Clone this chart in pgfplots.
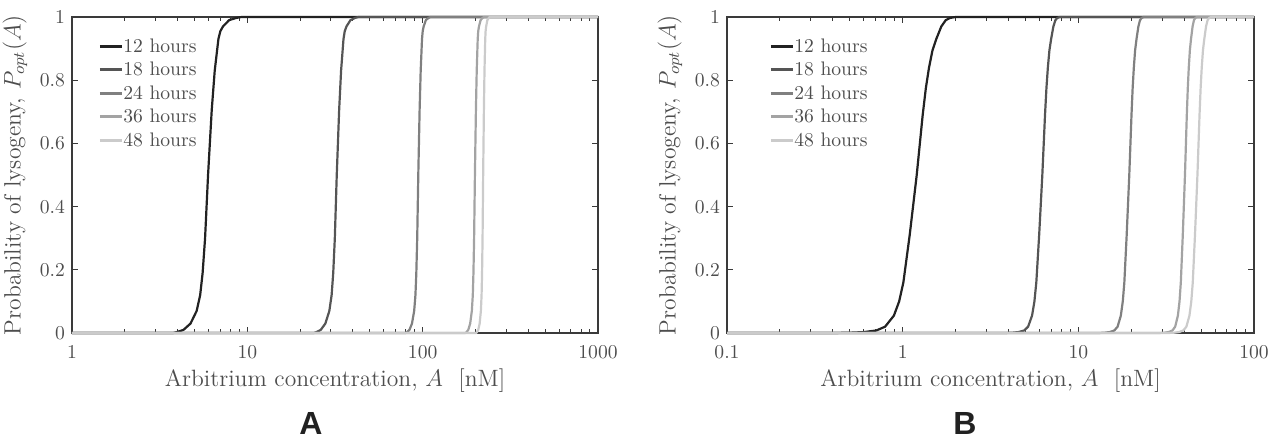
\documentclass[border=0pt]{standalone}
\usepackage{fontspec}
\usepackage{pgfplots}
\pgfplotsset{compat=1.18}
\newfontfamily\arialfont{Liberation Sans}
\definecolor{c12}{HTML}{222222}
\definecolor{c18}{HTML}{555555}
\definecolor{c24}{HTML}{808080}
\definecolor{c36}{HTML}{A3A3A3}
\definecolor{c48}{HTML}{CBCBCB}
\definecolor{txt}{HTML}{4D4D4D}
\definecolor{axc}{HTML}{3A3A3A}
\pgfplotsset{
 lyso/.style={
  scale only axis, height=158pt,
  ymin=0, ymax=1,
  ytick={0,0.2,0.4,0.6,0.8,1},
  yticklabels={0,{0.2\hspace{5pt}},{0.4\hspace{5pt}},{0.6\hspace{5pt}},{0.8\hspace{5pt}},1},
  tick align=inside, xtick pos=both, ytick pos=both,
  major tick length=3pt, minor tick length=1.8pt,
  tick style={axc, line width=0.5pt},
  axis line style={axc, line width=0.6pt},
  tick label style={font=\fontsize{9.8}{11}\selectfont, text=txt},
  xticklabel style={yshift=-2.7pt},
  label style={font=\fontsize{11.8}{14}\selectfont, text=txt},
  xlabel={Arbitrium concentration, $A$\ \ [nM]},
  ylabel={Probability of lysogeny, $P_{opt}(A)$},
  xlabel style={at={(axis description cs:0.5,-0.1519)}, anchor=center},
  ylabel style={at={(axis description cs:-0.1084,0.5)}, anchor=center},
  clip=false,
  legend cell align=left,
  legend image code/.code={\draw[##1, line width=1.5pt] (0pt,0.6pt) -- (11pt,0.6pt);},
  legend style={draw=none, fill=none, inner sep=0pt, anchor=north west, row sep=2.75pt,
    nodes={inner sep=0pt, text height=7pt, text depth=2pt, font=\fontsize{9.8}{11}\selectfont, text=txt},
    cells={anchor=west}},
  every axis plot/.append style={line width=1.1pt, line join=round},
 }
}
\begin{document}
\begin{tikzpicture}
\useasboundingbox (-36pt,-54pt) rectangle (606.5pt,166.5pt);
\begin{axis}[lyso, at={(0pt,0pt)}, anchor=south west, width=263pt,
  xmin=0, xmax=3, xtick={0,1,2,3}, xticklabels={1,10,100,1000},
  minor xtick={0.30103,0.47712,0.60206,0.69897,0.77815,0.84510,0.90309,0.95424,
    1.30103,1.47712,1.60206,1.69897,1.77815,1.84510,1.90309,1.95424,
    2.30103,2.47712,2.60206,2.69897,2.77815,2.84510,2.90309,2.95424},
  legend style={at={(0,1)}, xshift=13pt, yshift=-10.4pt}]
\addplot[c12] coordinates {(0,0) (0.576,0) (0.599,0.003) (0.636,0.01) (0.676,0.03) (0.711,0.07) (0.731,0.12) (0.745,0.19) (0.759,0.30) (0.776,0.5) (0.797,0.706) (0.814,0.83) (0.835,0.93) (0.846,0.955) (0.861,0.97) (0.896,0.99) (0.936,0.997) (0.966,1) (3,1)};
\addplot[c18] coordinates {(0,0) (1.380,0) (1.395,0.003) (1.419,0.01) (1.445,0.03) (1.4678,0.07) (1.4808,0.12) (1.4899,0.19) (1.499,0.30) (1.510,0.5) (1.5237,0.706) (1.5347,0.83) (1.5484,0.93) (1.5555,0.955) (1.5653,0.97) (1.588,0.99) (1.614,0.997) (1.6335,1) (3,1)};
\addplot[c24] coordinates {(0,0) (1.903,0) (1.9113,0.003) (1.9246,0.01) (1.939,0.03) (1.9516,0.07) (1.9588,0.12) (1.9638,0.19) (1.9689,0.30) (1.975,0.5) (1.9826,0.706) (1.9887,0.83) (1.9962,0.93) (2.0002,0.955) (2.0056,0.97) (2.0182,0.99) (2.0326,0.997) (2.0434,1) (3,1)};
\addplot[c36] coordinates {(0,0) (2.244,0) (2.2502,0.003) (2.2602,0.01) (2.271,0.03) (2.2805,0.07) (2.2859,0.12) (2.2896,0.19) (2.2934,0.30) (2.298,0.5) (2.3037,0.706) (2.3083,0.83) (2.3139,0.93) (2.3169,0.955) (2.321,0.97) (2.3304,0.99) (2.3412,0.997) (2.3493,1) (3,1)};
\addplot[c48] coordinates {(0,0) (2.305,0) (2.3096,0.003) (2.317,0.01) (2.325,0.03) (2.332,0.07) (2.336,0.12) (2.3388,0.19) (2.3416,0.30) (2.345,0.5) (2.3492,0.706) (2.3526,0.83) (2.3568,0.93) (2.359,0.955) (2.362,0.97) (2.369,0.99) (2.377,0.997) (2.383,1) (3,1)};
\legend{12 hours,18 hours,24 hours,36 hours,48 hours}
\end{axis}
\begin{axis}[lyso, at={(327.5pt,0pt)}, anchor=south west, width=263.5pt,
  xmin=-1, xmax=2, xtick={-1,0,1,2}, xticklabels={0.1,1,10,100},
  minor xtick={-0.69897,-0.52288,-0.39794,-0.30103,-0.22185,-0.15490,-0.09691,-0.04576,
    0.30103,0.47712,0.60206,0.69897,0.77815,0.84510,0.90309,0.95424,
    1.30103,1.47712,1.60206,1.69897,1.77815,1.84510,1.90309,1.95424},
  legend style={at={(0,1)}, xshift=21pt, yshift=-10.4pt}]
\addplot[c12] coordinates {(-1,0) (-0.400,0) (-0.300,0.001) (-0.220,0.003) (-0.150,0.008) (-0.100,0.02) (-0.050,0.055) (-0.020,0.10) (0.004,0.16) (0.040,0.31) (0.080,0.5) (0.114,0.69) (0.132,0.775) (0.150,0.84) (0.170,0.895) (0.191,0.93) (0.220,0.97) (0.245,0.99) (0.270,0.997) (0.300,1) (2,1)};
\addplot[c18] coordinates {(-1,0) (0.579,0) (0.624,0.001) (0.660,0.003) (0.6915,0.008) (0.714,0.02) (0.7365,0.055) (0.750,0.10) (0.7608,0.16) (0.777,0.31) (0.795,0.5) (0.8103,0.69) (0.8184,0.775) (0.8265,0.84) (0.8355,0.895) (0.845,0.93) (0.858,0.97) (0.8693,0.99) (0.8805,0.997) (0.894,1) (2,1)};
\addplot[c24] coordinates {(-1,0) (1.1124,0) (1.1494,0.001) (1.179,0.003) (1.2049,0.008) (1.2234,0.02) (1.2419,0.055) (1.253,0.10) (1.2619,0.16) (1.2752,0.31) (1.29,0.5) (1.3026,0.69) (1.3092,0.775) (1.3159,0.84) (1.3233,0.895) (1.3311,0.93) (1.3418,0.97) (1.3511,0.99) (1.3603,0.997) (1.3714,1) (2,1)};
\addplot[c36] coordinates {(-1,0) (1.4582,0) (1.4892,0.001) (1.514,0.003) (1.5357,0.008) (1.5512,0.02) (1.5667,0.055) (1.576,0.10) (1.5834,0.16) (1.5946,0.31) (1.607,0.5) (1.6175,0.69) (1.6231,0.775) (1.6287,0.84) (1.6349,0.895) (1.6414,0.93) (1.6504,0.97) (1.6582,0.99) (1.6659,0.997) (1.6752,1) (2,1)};
\addplot[c48] coordinates {(-1,0) (1.510,0) (1.545,0.001) (1.573,0.003) (1.5975,0.008) (1.615,0.02) (1.6325,0.055) (1.643,0.10) (1.6514,0.16) (1.664,0.31) (1.678,0.5) (1.6899,0.69) (1.6962,0.775) (1.7025,0.84) (1.7095,0.895) (1.7169,0.93) (1.727,0.97) (1.7358,0.99) (1.7445,0.997) (1.755,1) (2,1)};
\legend{12 hours,18 hours,24 hours,36 hours,48 hours}
\end{axis}
\node[font=\arialfont\bfseries\fontsize{16}{18}\selectfont, text=black!87] at (119.5pt,-45.25pt) {A};
\node[font=\arialfont\bfseries\fontsize{16}{18}\selectfont, text=black!87] at (446.5pt,-45.25pt) {B};
\end{tikzpicture}
\end{document}
